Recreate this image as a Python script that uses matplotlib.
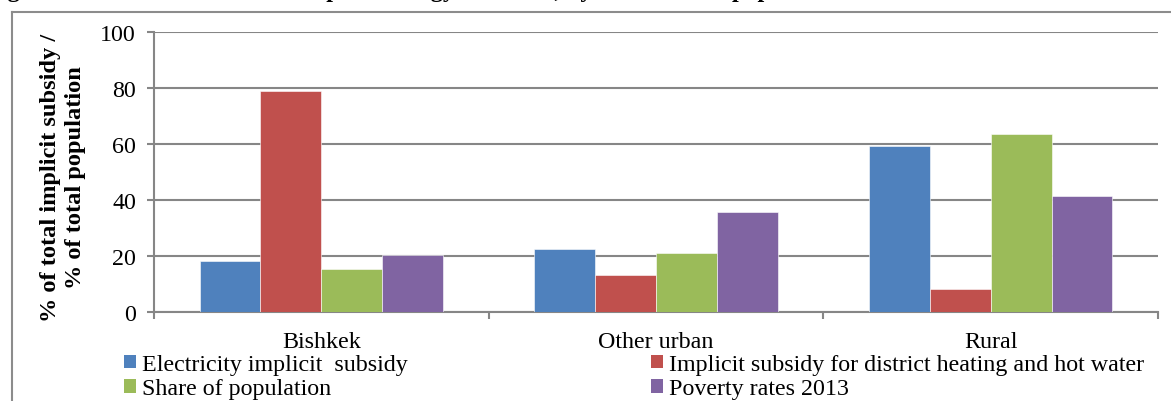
import numpy as np
import matplotlib.pyplot as plt
from matplotlib.patches import Patch

# data
categories = ["Bishkek", "Other urban", "Rural"]
series_names = [
    "Electricity implicit  subsidy",
    "Implicit subsidy for district heating and hot water",
    "Share of population",
    "Poverty rates 2013",
]
electricity = [18.3, 22.4, 59.2]
heating = [78.8, 13.1, 8.2]
population = [15.4, 21.0, 63.6]
poverty = [20.3, 35.6, 41.3]
colors = ["#4F81BD", "#C0504D", "#9BBB59", "#8064A2"]

plt.rcParams["font.family"] = ["Liberation Serif", "DejaVu Serif"]
FS = 17.3

W, H = 1171, 402
fig = plt.figure(figsize=(W / 100, H / 100), dpi=100)

# outer chart frame (only top and left visible in the crop)
fig.add_artist(plt.Line2D([12 / W, 12 / W], [0, 1 - 12.5 / H], color="#8c8c8c", lw=1.5))
fig.add_artist(plt.Line2D([12 / W, 1], [1 - 12.5 / H, 1 - 12.5 / H], color="#8c8c8c", lw=1.5))

# caption, cut off by the top edge
fig.text(-14 / W, 1 + 2.5 / H,
         "Figure 4: Distribution of total implicit energy subsidies, by location and population",
         fontsize=17.5, fontweight="bold", ha="left", va="baseline")

ax = fig.add_axes([154 / W, (H - 313) / H, (1158 - 154) / W, (313 - 33) / H])

x = np.arange(len(categories))
w = 0.182
all_series = [electricity, heating, population, poverty]
for i, vals in enumerate(all_series):
    ax.bar(x + (i - 1.5) * w, vals, width=w, color=colors[i],
           edgecolor="white", linewidth=0.4, zorder=3, label=series_names[i])

ax.set_xlim(-0.5, 2.5)
ax.set_ylim(0, 100)
ax.set_yticks(range(0, 101, 20))
ax.yaxis.grid(True, color="#868686", linewidth=1.5, zorder=0)

ax.set_xticks([-0.5, 0.5, 1.5, 2.5])
ax.set_xticklabels([])
ax.set_xticks(x, minor=True)
ax.set_xticklabels(categories, minor=True)
ax.tick_params(axis="x", which="major", length=5, width=1.5, color="#868686")
ax.tick_params(axis="x", which="minor", length=0, pad=14, labelsize=FS)
ax.tick_params(axis="y", length=5, width=1.5, color="#868686", pad=8, labelsize=FS)

for s in ["top", "right"]:
    ax.spines[s].set_visible(False)
for s in ["left", "bottom"]:
    ax.spines[s].set_color("#868686")
    ax.spines[s].set_linewidth(1.5)

fig.text(63 / W, (H - 178) / H, "% of total implicit subsidy /\n% of total population",
         rotation=90, ha="center", va="center", multialignment="center",
         fontsize=17.6, fontweight="bold", linespacing=1.25)

# legend in two columns
h = [Patch(facecolor=c) for c in colors]
leg_kw = dict(frameon=False, fontsize=FS, handlelength=0.5, handleheight=0.5,
              handletextpad=0.25, labelspacing=0.14, borderpad=0, borderaxespad=0,
              loc="upper left")
fig.legend([h[0], h[2]], [series_names[0], series_names[2]],
           bbox_to_anchor=(124 / W, 1 - 355 / H), **leg_kw)
fig.legend([h[1], h[3]], [series_names[1], series_names[3]],
           bbox_to_anchor=(651 / W, 1 - 355 / H), **leg_kw)

fig.savefig("out.png", dpi=100)
